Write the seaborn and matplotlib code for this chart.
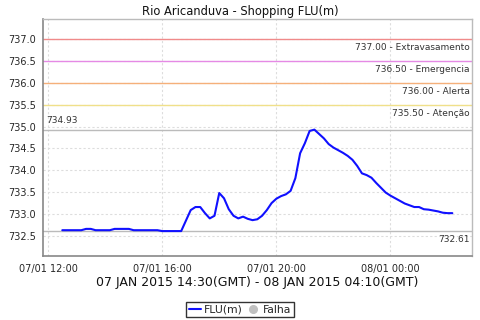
import matplotlib
matplotlib.use("Agg")
import matplotlib.pyplot as plt
import matplotlib.dates as mdates
from matplotlib.lines import Line2D
import seaborn as sns
import pandas as pd

start_time = "2015-01-07 12:30"
n_points = 83
flu_values = [
    732.63, 732.63, 732.63, 732.63, 732.63, 732.66, 732.66, 732.63, 732.63, 732.63,
    732.63, 732.66, 732.66, 732.66, 732.66, 732.63, 732.63, 732.63, 732.63, 732.63,
    732.63, 732.61, 732.61, 732.61, 732.61, 732.61, 732.85, 733.09, 733.16, 733.16,
    733.02, 732.90, 732.96, 733.48, 733.36, 733.11, 732.96, 732.90, 732.94, 732.89,
    732.86, 732.88, 732.96, 733.09, 733.25, 733.35, 733.41, 733.45, 733.53, 733.82,
    734.39, 734.62, 734.90, 734.93, 734.83, 734.73, 734.60, 734.52, 734.46, 734.40,
    734.33, 734.24, 734.10, 733.93, 733.89, 733.83, 733.71, 733.60, 733.49, 733.42,
    733.36, 733.30, 733.24, 733.20, 733.16, 733.16, 733.11, 733.10, 733.08, 733.06,
    733.03, 733.02, 733.02,
]
threshold_values = [737.00, 736.50, 736.00, 735.50]
threshold_names = ["Extravasamento", "Emergencia", "Alerta", "Atenção"]
threshold_colors = ["#f08a8a", "#e58ae5", "#f5b07a", "#f0e08a"]
max_value = 734.93
min_value = 732.61
x_ticks = ["2015-01-07 12:00", "2015-01-07 16:00", "2015-01-07 20:00", "2015-01-08 00:00"]
title = "Rio Aricanduva - Shopping FLU(m)"
xlabel = "07 JAN 2015 14:30(GMT) - 08 JAN 2015 04:10(GMT)"

times = pd.date_range(start_time, periods=n_points, freq="10min")
df = pd.DataFrame({"time": times, "FLU(m)": flu_values})

sns.set_style("white")
plt.rcParams["font.family"] = ["DejaVu Sans"]

fig = plt.figure(figsize=(4.8, 3.2), dpi=100)
ax = fig.add_axes([0.0896, 0.2, 0.8934, 0.7406])

sns.lineplot(data=df, x="time", y="FLU(m)", ax=ax, color="#1010ff", linewidth=1.5)

for v, name, c in zip(threshold_values, threshold_names, threshold_colors):
    ax.axhline(v, color=c, linewidth=1, zorder=1)
    ax.annotate(f"{v:.2f} - {name}", xy=(0.995, v), xycoords=("axes fraction", "data"),
                xytext=(0, -3), textcoords="offset points", ha="right", va="top",
                fontsize=6.5, color="#333333")
ax.axhline(max_value, color="#bbbbbb", linewidth=1, zorder=1)
ax.annotate(f"{max_value:.2f}", xy=(0.008, max_value), xycoords=("axes fraction", "data"),
            xytext=(0, 3), textcoords="offset points", ha="left", va="bottom",
            fontsize=6.5, color="#333333")
ax.axhline(min_value, color="#bbbbbb", linewidth=1, zorder=1)
ax.annotate(f"{min_value:.2f}", xy=(0.995, min_value), xycoords=("axes fraction", "data"),
            xytext=(0, -3), textcoords="offset points", ha="right", va="top",
            fontsize=6.5, color="#333333")

ax.set_xlim(pd.Timestamp("2015-01-07 11:49:30"), pd.Timestamp("2015-01-08 02:51"))
ax.set_ylim(732.04, 737.46)
ax.set_xticks([pd.Timestamp(t) for t in x_ticks])
ax.xaxis.set_major_formatter(mdates.DateFormatter("%d/%m %H:%M"))
ax.set_yticks([732.5, 733.0, 733.5, 734.0, 734.5, 735.0, 735.5, 736.0, 736.5, 737.0])
ax.yaxis.set_major_formatter(matplotlib.ticker.FormatStrFormatter("%.1f"))
ax.tick_params(axis="both", labelsize=7, length=3, width=0.8, color="#888888", pad=2)
ax.tick_params(axis="x", pad=3)
ax.grid(True, linestyle=(0, (2, 2)), color="#dddddd", linewidth=0.8)
ax.set_axisbelow(True)

for side in ["left", "bottom"]:
    ax.spines[side].set_color("#888888")
    ax.spines[side].set_linewidth(1.2)
for side in ["top", "right"]:
    ax.spines[side].set_color("#bbbbbb")
    ax.spines[side].set_linewidth(1)

fig.text(0.5, 0.965, title, ha="center", va="center", fontsize=8.3, color="#111111")
ax.set_ylabel("")
ax.set_xlabel(xlabel, fontsize=9, labelpad=1, color="#111111")

handles = [
    Line2D([0], [0], color="#1010ff", linewidth=1.5),
    Line2D([0], [0], marker="o", linestyle="none", markerfacecolor="#c0c0c0",
           markeredgecolor="#c0c0c0", markersize=5.5),
]
leg = fig.legend(handles, ["FLU(m)", "Falha"], loc="lower center", bbox_to_anchor=(0.5, 0.008),
                 ncol=2, fontsize=7.8, frameon=True, fancybox=False, handlelength=1.1,
                 handletextpad=0.3, columnspacing=0.4, borderpad=0.25, borderaxespad=0.0)
leg.get_frame().set_edgecolor("black")
leg.get_frame().set_linewidth(1)

fig.savefig("out.png", dpi=100)
